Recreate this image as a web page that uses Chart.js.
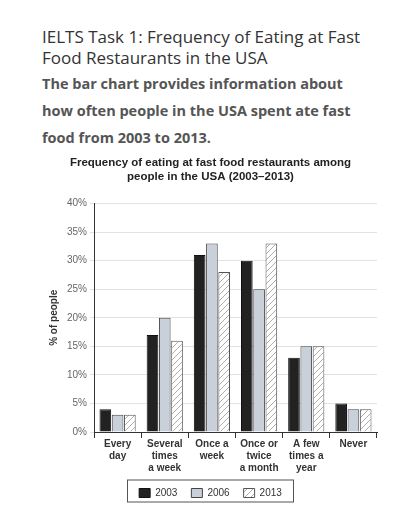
<!DOCTYPE html>
<html><head><meta charset="utf-8">
<script src="https://cdn.jsdelivr.net/npm/chart.js@4/dist/chart.umd.min.js"></script>
<style>
body{margin:0;background:#fff;font-family:"Open Sans",sans-serif;}
#hdr{position:absolute;left:42px;top:26px;width:335px;}
#h1{font-size:17px;line-height:21px;color:#333;}
#h2{font-size:14.5px;line-height:27px;font-weight:bold;color:#555;margin-top:2px;}
#wrap{position:absolute;left:0;top:154px;width:417px;height:356px;}
</style></head><body>
<div id="hdr"><div id="h1">IELTS Task 1: Frequency of Eating at Fast Food Restaurants in the USA</div>
<div id="h2">The bar chart provides information about how often people in the USA spent ate fast food from 2003 to 2013.</div></div>
<div id="wrap"><canvas id="c"></canvas></div>
<script>
const categories=[["Every","day"],["Several","times","a week"],["Once a","week"],["Once or","twice","a month"],["A few","times a","year"],["Never"]];
const seriesNames=["2003","2006","2013"];
const v2003=[4,17,31,30,13,5];
const v2006=[3,20,33,25,15,4];
const v2013=[3,16,28,33,15,4];
const yTicks=[0,5,10,15,20,25,30,35,40];

const pc=document.createElement('canvas');pc.width=6;pc.height=6;
const px=pc.getContext('2d');px.fillStyle='#fff';px.fillRect(0,0,6,6);
px.strokeStyle='#999';px.lineWidth=0.8;
px.beginPath();px.moveTo(0,6);px.lineTo(6,0);px.moveTo(-1,1);px.lineTo(1,-1);px.moveTo(5,7);px.lineTo(7,5);px.stroke();
const hatch=px.createPattern(pc,'repeat');

const legendBox={id:'lb',afterDraw(ch){const l=ch.legend,c=ch.ctx;c.save();c.strokeStyle='#555';c.lineWidth=1;
const cx=(l.left+l.right)/2;c.strokeRect(cx-83,l.top+6,166,l.height-12);c.restore();}};
new Chart(document.getElementById('c'),{type:'bar',
data:{labels:categories,datasets:[
{label:seriesNames[0],data:v2003,backgroundColor:'#222',borderColor:'#111',borderWidth:1},
{label:seriesNames[1],data:v2006,backgroundColor:'#c9d0da',borderColor:'#444',borderWidth:1},
{label:seriesNames[2],data:v2013,backgroundColor:hatch,borderColor:'#555',borderWidth:1}]},
options:{responsive:true,maintainAspectRatio:false,animation:false,
layout:{padding:{left:44,right:40,top:0,bottom:2}},
datasets:{bar:{categoryPercentage:0.78,barPercentage:0.95}},
plugins:{title:{display:true,text:['Frequency of eating at fast food restaurants among','people in the USA (2003–2013)'],font:{family:'Liberation Sans',size:11.5,weight:'bold'},color:'#222',padding:{top:2,bottom:20}},
legend:{position:'bottom',labels:{boxWidth:11,boxHeight:9,font:{family:'Liberation Sans',size:10},color:'#333',padding:14},padding:{top:22}}},
scales:{x:{grid:{display:true,drawOnChartArea:false,tickLength:6,offset:true,color:'#333'},border:{color:'#333'},
ticks:{font:{family:'Liberation Sans',size:10,weight:'bold'},color:'#333',padding:0,maxRotation:0,autoSkip:false}},
y:{min:0,max:40,afterBuildTicks(ax){ax.ticks=yTicks.map(v=>({value:v}));},
grid:{color:'#e2e2e2',tickLength:4},border:{color:'#333'},
title:{display:true,text:'% of people',font:{family:'Liberation Sans',size:10,weight:'bold'},color:'#333'},
ticks:{callback:v=>v+'%',font:{family:'Liberation Sans',size:10},color:'#666'}}}},
plugins:[legendBox]});
</script></body></html>
